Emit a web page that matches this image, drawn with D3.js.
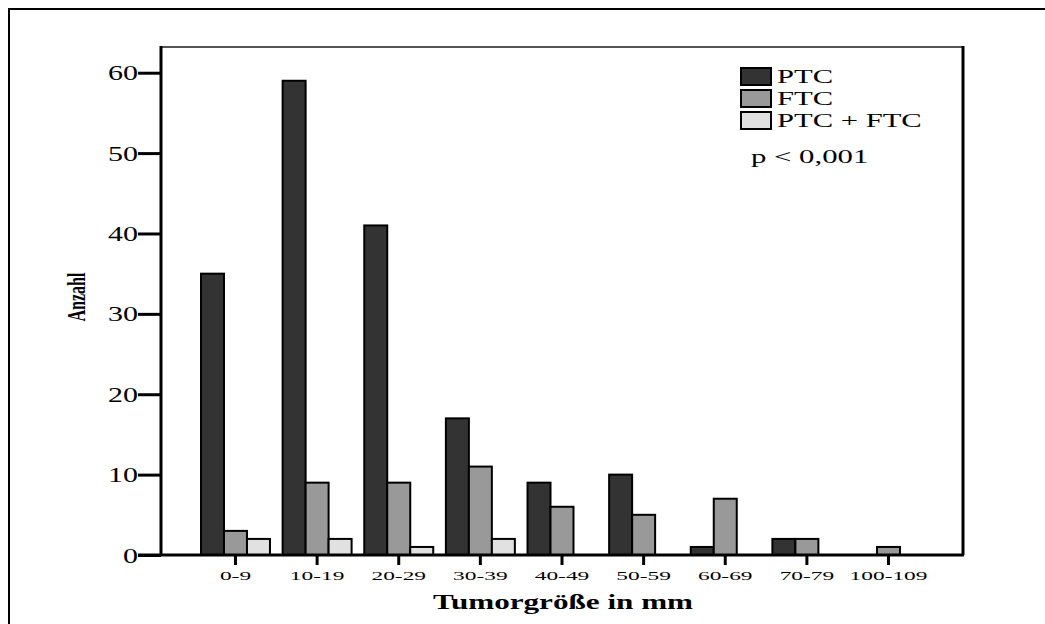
<!DOCTYPE html>
<html>
<head>
<meta charset="utf-8">
<script src="https://cdn.jsdelivr.net/npm/d3@7"></script>
<style>
  html, body { margin: 0; padding: 0; background: #fff; }
  svg { display: block; }
  text { font-family: "Liberation Serif", "Times New Roman", serif; fill: #000; }
</style>
</head>
<body>
<svg id="chart" width="1045" height="624"></svg>
<script>
const categories = ["0-9", "10-19", "20-29", "30-39", "40-49", "50-59", "60-69", "70-79", "100-109"];
const seriesNames = ["PTC", "FTC", "PTC + FTC"];
const ptcValues = [35, 59, 41, 17, 9, 10, 1, 2, 0];
const ftcValues = [3, 9, 9, 11, 6, 5, 7, 2, 1];
const bothValues = [2, 2, 1, 2, 0, 0, 0, 0, 0];
const yTicks = [0, 10, 20, 30, 40, 50, 60];
const seriesColors = ["#333333", "#999999", "#e1e1e1"];
const pText = "p < 0,001";
const xTitle = "Tumorgröße in mm";
const yTitle = "Anzahl";

const svg = d3.select("#chart");
const plot = { left: 161, right: 963, top: 47, bottom: 555 };

const y = d3.scaleLinear().domain([0, 63.2]).range([plot.bottom, plot.top]);
const x0 = d3.scaleBand().domain(categories).range([plot.left, plot.right])
  .paddingInner(0.155).paddingOuter(0.49);
const x1 = d3.scaleBand().domain(seriesNames).range([0, x0.bandwidth()]).padding(0);

const allSeries = [ptcValues, ftcValues, bothValues];

// outer page frame
svg.append("line").attr("x1", 8).attr("x2", 1045).attr("y1", 9).attr("y2", 9)
  .attr("stroke", "#000").attr("stroke-width", 2);
svg.append("line").attr("x1", 9).attr("x2", 9).attr("y1", 9).attr("y2", 624)
  .attr("stroke", "#000").attr("stroke-width", 2);

// bars
const groups = svg.append("g").selectAll("g").data(categories).join("g")
  .attr("transform", d => `translate(${x0(d)},0)`);
groups.selectAll("rect")
  .data((c, i) => seriesNames.map((s, k) => ({ s, k, v: allSeries[k][i] })).filter(d => d.v > 0))
  .join("rect")
  .attr("x", d => x1(d.s))
  .attr("width", x1.bandwidth())
  .attr("y", d => y(d.v))
  .attr("height", d => y(0) - y(d.v))
  .attr("fill", d => seriesColors[d.k])
  .attr("stroke", "#000")
  .attr("stroke-width", 2);

// plot frame: top and right
svg.append("line").attr("x1", plot.left).attr("x2", plot.right).attr("y1", plot.top).attr("y2", plot.top)
  .attr("stroke", "#555").attr("stroke-width", 2);
svg.append("line").attr("x1", plot.right).attr("x2", plot.right).attr("y1", plot.top - 1).attr("y2", plot.bottom)
  .attr("stroke", "#000").attr("stroke-width", 3);

// y axis
const yAxis = svg.append("g").attr("transform", `translate(${plot.left},0)`)
  .call(d3.axisLeft(y).tickValues(yTicks).tickSize(23).tickPadding(0).tickFormat(d3.format("d")));
yAxis.select(".domain").attr("d", `M0,${plot.top - 1}V${plot.bottom}`).attr("stroke-width", 3);
yAxis.selectAll(".tick line").attr("stroke-width", 3);
yAxis.selectAll(".tick text")
  .attr("font-family", "Liberation Serif, serif")
  .attr("font-size", 20)
  .attr("text-anchor", "end")
  .attr("x", null).attr("dy", null)
  .attr("transform", "translate(-23,7) scale(1.5,1)")
  .attr("fill", "#000");

// x axis
const xAxis = svg.append("g").attr("transform", `translate(0,${plot.bottom})`)
  .call(d3.axisBottom(x0).tickSize(10).tickPadding(0));
xAxis.select(".domain").attr("d", `M138,0H${plot.right + 1}`).attr("stroke-width", 3);
xAxis.selectAll(".tick line").attr("stroke-width", 3);
xAxis.selectAll(".tick text")
  .attr("font-family", "Liberation Serif, serif")
  .attr("font-size", 13)
  .attr("y", null).attr("dy", null)
  .attr("transform", "translate(0,25) scale(1.8,1)")
  .attr("fill", "#000");

// axis titles
svg.append("text").attr("x", 563).attr("y", 609)
  .attr("text-anchor", "middle").attr("font-weight", "bold").attr("font-size", 20)
  .attr("textLength", 260).attr("lengthAdjust", "spacingAndGlyphs")
  .text(xTitle);
svg.append("text").attr("transform", "translate(85,297) rotate(-90) scale(0.64,1)")
  .attr("text-anchor", "middle").attr("font-weight", "bold").attr("font-size", 25)
  .text(yTitle);

// legend
const legend = svg.append("g").attr("transform", "translate(741,68)");
const item = legend.selectAll("g").data(seriesNames).join("g")
  .attr("transform", (d, i) => `translate(0,${i * 22})`);
item.append("rect").attr("width", 30).attr("height", 17)
  .attr("fill", (d, i) => seriesColors[i]).attr("stroke", "#000").attr("stroke-width", 2);
item.append("text").attr("font-size", 18)
  .attr("transform", "translate(36,15) scale(1.7,1)")
  .text(d => d);

svg.append("text").attr("font-size", 19)
  .attr("transform", "translate(751,163) scale(1.62,1)")
  .text(pText);
</script>
</body>
</html>
